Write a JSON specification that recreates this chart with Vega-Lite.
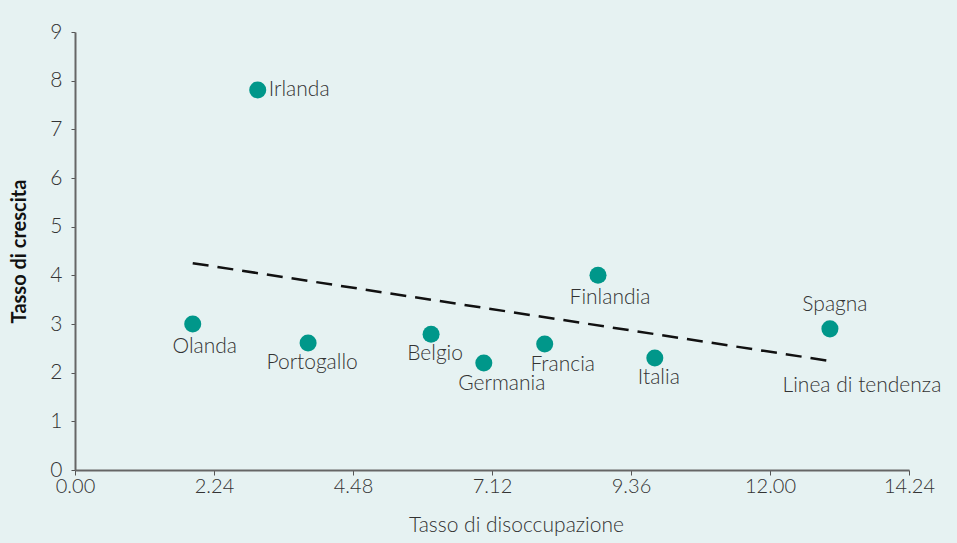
{
  "$schema": "https://vega.github.io/schema/vega-lite/v6.json",
  "width": 834,
  "height": 438,
  "autosize": {"type": "none"},
  "padding": {"left": 75, "top": 32, "right": 48, "bottom": 73},
  "background": "#e6f2f2",
  "config": {
    "view": {"stroke": null},
    "font": "Lato",
    "axis": {"grid": false, "labelFont": "Lato", "titleFont": "Lato"}
  },
  "datasets": {
    "pts": [
      {"paese": "Olanda", "disocc": 2.01, "crescita": 3.0, "pos": "below"},
      {"paese": "Irlanda", "disocc": 3.12, "crescita": 7.81, "pos": "right"},
      {"paese": "Portogallo", "disocc": 3.98, "crescita": 2.61, "pos": "belowc"},
      {"paese": "Belgio", "disocc": 6.08, "crescita": 2.79, "pos": "belowc"},
      {"paese": "Germania", "disocc": 6.98, "crescita": 2.2, "pos": "belowr"},
      {"paese": "Francia", "disocc": 8.02, "crescita": 2.59, "pos": "belowr"},
      {"paese": "Finlandia", "disocc": 8.93, "crescita": 4.0, "pos": "below"},
      {"paese": "Italia", "disocc": 9.9, "crescita": 2.3, "pos": "belowc"},
      {"paese": "Spagna", "disocc": 12.89, "crescita": 2.9, "pos": "above"}
    ],
    "trend": [
      {"disocc": 2.01, "crescita": 4.25, "etichetta": ""},
      {"disocc": 12.89, "crescita": 2.24, "etichetta": "Linea di tendenza"}
    ]
  },
  "encoding": {
    "x": {
      "field": "disocc", "type": "quantitative",
      "scale": {"domain": [0, 14.24], "nice": false, "zero": false},
      "axis": {
        "title": "Tasso di disoccupazione",
        "values": [0, 2.37333, 4.74667, 7.12, 9.49333, 11.86667, 14.24],
        "labelExpr": "datum.index == 0 ? '0.00' : datum.index < 0.2 ? '2.24' : datum.index < 0.4 ? '4.48' : datum.index < 0.6 ? '7.12' : datum.index < 0.7 ? '9.36' : datum.index < 0.9 ? '12.00' : '14.24'",
        "labelFontSize": 20, "labelColor": "#333333", "labelFontWeight": 300,
        "labelDx": 12, "labelPadding": 1, "labelFlush": false,
        "tickSize": 5, "tickColor": "#555555", "tickWidth": 1, "tickOffset": 0,
        "domainColor": "#666666", "domainWidth": 2,
        "titleFontSize": 21, "titleFontWeight": 300, "titleColor": "#333333",
        "titlePadding": 18, "titleX": 441
      }
    },
    "y": {
      "field": "crescita", "type": "quantitative",
      "scale": {"domain": [0, 9], "nice": false},
      "axis": {
        "title": "Tasso di crescita",
        "values": [0, 1, 2, 3, 4, 5, 6, 7, 8, 9],
        "labelFontSize": 21, "labelColor": "#333333", "labelFontWeight": 300,
        "labelPadding": 9,
        "tickSize": 4, "tickColor": "#555555", "tickWidth": 1,
        "domainColor": "#666666", "domainWidth": 2,
        "titleFontSize": 20, "titleFontWeight": "bold", "titleColor": "#111111",
        "titlePadding": 20
      }
    }
  },
  "layer": [
    {
      "data": {"name": "trend"},
      "mark": {"type": "line", "color": "#111111", "strokeWidth": 2.5, "strokeDash": [16, 9]},
      "encoding": {}
    },
    {
      "data": {"name": "trend"},
      "mark": {"type": "text", "fontSize": 21, "fontWeight": 300, "color": "#333333", "dx": 32, "dy": 25},
      "encoding": {"text": {"field": "etichetta"}}
    },
    {
      "data": {"name": "pts"},
      "mark": {"type": "circle", "size": 290, "color": "#00978a", "opacity": 1},
      "encoding": {}
    },
    {
      "data": {"name": "pts"},
      "transform": [{"filter": "datum.pos == 'below'"}],
      "mark": {"type": "text", "fontSize": 21, "fontWeight": 300, "color": "#333333", "dx": 12, "dy": 23},
      "encoding": {"text": {"field": "paese"}}
    },
    {
      "data": {"name": "pts"},
      "transform": [{"filter": "datum.pos == 'belowc'"}],
      "mark": {"type": "text", "fontSize": 21, "fontWeight": 300, "color": "#333333", "dx": 4, "dy": 20},
      "encoding": {"text": {"field": "paese"}}
    },
    {
      "data": {"name": "pts"},
      "transform": [{"filter": "datum.pos == 'belowr'"}],
      "mark": {"type": "text", "fontSize": 21, "fontWeight": 300, "color": "#333333", "dx": 18, "dy": 21},
      "encoding": {"text": {"field": "paese"}}
    },
    {
      "data": {"name": "pts"},
      "transform": [{"filter": "datum.pos == 'above'"}],
      "mark": {"type": "text", "fontSize": 21, "fontWeight": 300, "color": "#333333", "dx": 5, "dy": -24},
      "encoding": {"text": {"field": "paese"}}
    },
    {
      "data": {"name": "pts"},
      "transform": [{"filter": "datum.pos == 'right'"}],
      "mark": {"type": "text", "fontSize": 21, "fontWeight": 300, "color": "#333333", "align": "left", "dx": 11, "dy": 0},
      "encoding": {"text": {"field": "paese"}}
    }
  ]
}
